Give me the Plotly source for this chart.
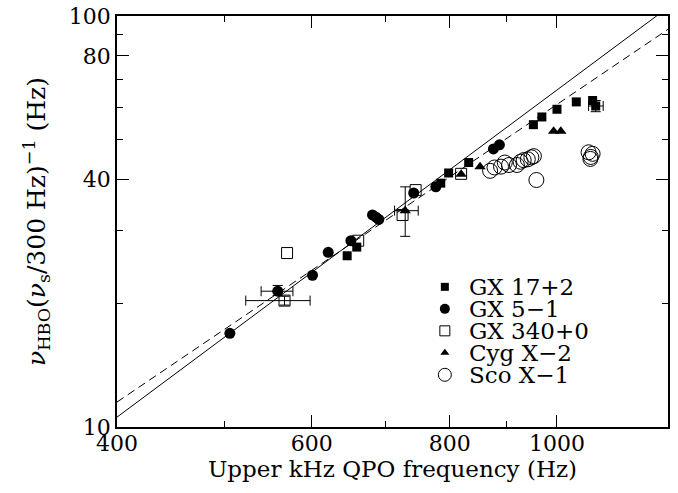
import plotly.graph_objects as go

# GX 17+2 (filled squares)
gx17_x = [646, 659, 785, 798, 832, 952, 969, 1000, 1041, 1077]
gx17_y = [26.1, 27.4, 39.2, 41.5, 44.0, 54.4, 56.8, 59.3, 61.8, 62.3]
gx17_err_x = [1084]
gx17_err_y = [60.4]
gx17_err_xm = [16]
gx17_err_xp = [17]
gx17_err_ym = [1.9]
gx17_err_yp = [1.9]

# GX 5-1 (filled circles)
gx5_x = [506, 601, 621, 651, 681, 686, 690, 742, 777, 876, 887]
gx5_y = [16.9, 23.4, 26.6, 28.4, 32.8, 32.4, 32.0, 37.1, 38.4, 47.5, 48.6]
gx5_err_x = [559]
gx5_err_y = [21.4]
gx5_err_xm = [19]
gx5_err_xp = [18]
gx5_err_ym = [0.5]
gx5_err_yp = [0.7]

# GX 340+0 (open squares)
gx340_x = [570, 661, 745, 819, 725]
gx340_y = [26.5, 28.4, 37.7, 41.3, 32.8]
gx340_err_x = [567]
gx340_err_y = [20.3]
gx340_err_xm = [44]
gx340_err_xp = [31]
gx340_err_ym = [0.5]
gx340_err_yp = [0.5]

# Cyg X-2 (filled triangles)
cyg_x = [819, 852, 993, 1008]
cyg_y = [41.2, 43.0, 52.4, 52.4]
cyg_err_x = [729]
cyg_err_y = [33.6]
cyg_err_xm = [16]
cyg_err_xp = [20]
cyg_err_ym = [4.5]
cyg_err_yp = [4.8]

# Sco X-1 (open circles)
sco_x = [870, 878, 890, 897, 905, 920, 927, 933, 941, 948, 953, 958, 1068, 1073, 1077, 1072]
sco_y = [42.0, 42.8, 43.0, 44.0, 43.4, 43.4, 44.2, 44.6, 44.8, 45.3, 45.6, 39.9, 46.6, 45.4, 46.2, 44.9]

# fit lines (end points)
fit_x = [400, 1260]
solid_y = [10.57, 104.9]
dashed_y = [11.5, 92.8]

x_ticks = [400, 600, 800, 1000]
x_minor = [500, 700, 900]
y_ticks = [10, 40, 80, 100]
y_minor = [20, 30, 50, 60, 70, 90]

legend_names = ['GX 17+2', 'GX 5\u22121', 'GX 340+0', 'Cyg X\u22122', 'Sco X\u22121']

FONT = 'DejaVu Serif'
markers = [
    dict(symbol='square', size=9, color='black'),
    dict(symbol='circle', size=11, color='black'),
    dict(symbol='square-open', size=11, color='black', line=dict(width=1)),
    dict(symbol='triangle-up', size=10, color='black'),
    dict(symbol='circle-open', size=15, color='black', line=dict(width=1)),
]
key_markers = [
    dict(symbol='square', size=8, color='black'),
    dict(symbol='circle', size=10, color='black'),
    dict(symbol='square-open', size=10, color='black', line=dict(width=1)),
    dict(symbol='triangle-up', size=8, color='black'),
    dict(symbol='circle-open', size=13, color='black', line=dict(width=1)),
]

fig = go.Figure()
fig.add_trace(go.Scatter(x=fit_x, y=solid_y, mode='lines', line=dict(color='black', width=1), hoverinfo='skip'))
fig.add_trace(go.Scatter(x=fit_x, y=dashed_y, mode='lines', line=dict(color='black', width=1, dash='8px,5px'), hoverinfo='skip'))


def add_series(name, x, y, mk, ex=None, ey=None, exm=None, exp=None, eym=None, eyp=None):
    fig.add_trace(go.Scatter(x=x, y=y, mode='markers', name=name, marker=mk))
    if ex:
        fig.add_trace(go.Scatter(
            x=ex, y=ey, mode='markers', name=name, marker=mk,
            error_x=dict(type='data', symmetric=False, array=exp, arrayminus=exm, color='black', thickness=1, width=5),
            error_y=dict(type='data', symmetric=False, array=eyp, arrayminus=eym, color='black', thickness=1, width=5)))


add_series(legend_names[0], gx17_x, gx17_y, markers[0], gx17_err_x, gx17_err_y, gx17_err_xm, gx17_err_xp, gx17_err_ym, gx17_err_yp)
add_series(legend_names[1], gx5_x, gx5_y, markers[1], gx5_err_x, gx5_err_y, gx5_err_xm, gx5_err_xp, gx5_err_ym, gx5_err_yp)
add_series(legend_names[2], gx340_x, gx340_y, markers[2], gx340_err_x, gx340_err_y, gx340_err_xm, gx340_err_xp, gx340_err_ym, gx340_err_yp)
add_series(legend_names[3], cyg_x, cyg_y, markers[3], cyg_err_x, cyg_err_y, cyg_err_xm, cyg_err_xp, cyg_err_ym, cyg_err_yp)
add_series(legend_names[4], sco_x, sco_y, markers[4])

# hand-made key, drawn on an overlay axis that spans the plot area (0..1)
key_x = 0.595
key_y0 = 0.341
key_dy = 0.0535
for i, name in enumerate(legend_names):
    ky = key_y0 - i * key_dy
    fig.add_trace(go.Scatter(x=[key_x], y=[ky], xaxis='x2', yaxis='y2', mode='markers', marker=key_markers[i], hoverinfo='skip'))
    fig.add_annotation(text=name, xref='paper', yref='paper', x=key_x + 0.041, y=ky, xanchor='left', yanchor='middle',
                       showarrow=False, font=dict(family=FONT, size=23, color='black'))

axis_common = dict(type='log', showline=True, linecolor='black', linewidth=1.5, mirror='allticks', ticks='inside',
                   ticklen=12, tickwidth=1, tickcolor='black', showgrid=False, zeroline=False, automargin=False,
                   tickfont=dict(family=FONT, size=22, color='black'))

fig.update_xaxes(range=[2.60206, 3.1004], tickvals=x_ticks, ticktext=[str(v) for v in x_ticks], ticklabelstandoff=-4,
                 minor=dict(tickvals=x_minor, ticks='inside', ticklen=6, tickcolor='black', showgrid=False),
                 title=dict(text='Upper kHz QPO frequency (Hz)', font=dict(family=FONT, size=23, color='black'), standoff=1),
                 **axis_common)
fig.update_yaxes(range=[1, 2], tickvals=y_ticks, ticktext=[str(v) for v in y_ticks],
                 minor=dict(tickvals=y_minor, ticks='inside', ticklen=6, tickcolor='black', showgrid=False),
                 title=dict(text='<i>\u03bd</i><sub>HBO</sub>(<i>\u03bd</i><sub>s</sub>/300 Hz)<sup>\u22121</sup> (Hz)',
                            font=dict(family=FONT, size=25, color='black'), standoff=16),
                 **axis_common)

fig.update_layout(
    width=678, height=493, template='none', plot_bgcolor='white', paper_bgcolor='white',
    margin=dict(l=117, r=10, t=16, b=66, autoexpand=False), showlegend=False,
    xaxis2=dict(overlaying='x', range=[0, 1], visible=False, fixedrange=True),
    yaxis2=dict(overlaying='y', range=[0, 1], visible=False, fixedrange=True),
)

fig.write_html('out.html', config={'displayModeBar': False}, post_script="document.body.style.margin='0';")
